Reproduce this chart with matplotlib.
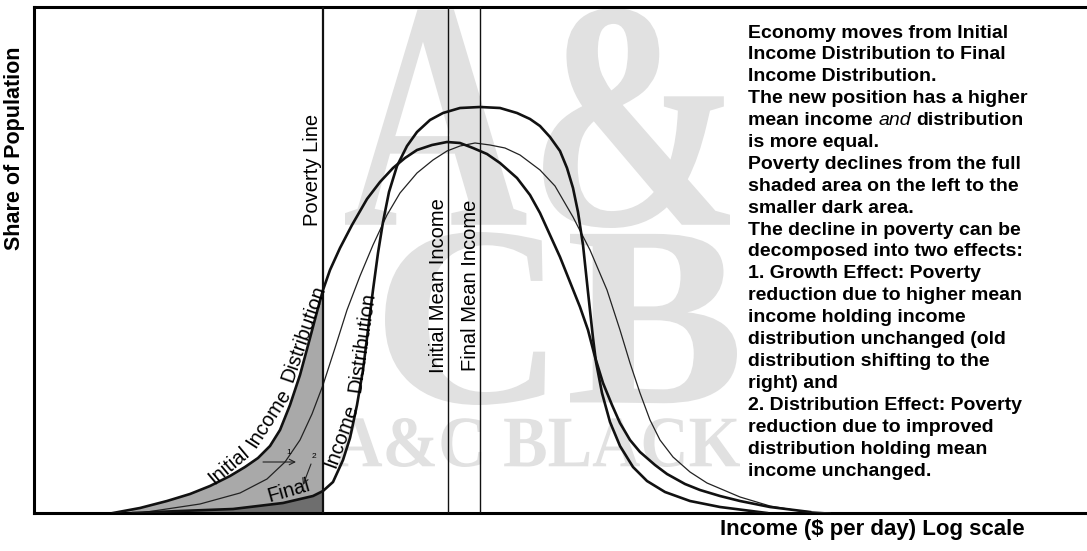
import matplotlib
matplotlib.use("Agg")
import matplotlib.pyplot as plt
import numpy as np
from matplotlib.font_manager import FontProperties
from matplotlib.patches import PathPatch
from matplotlib.textpath import TextPath
from matplotlib.transforms import Affine2D

# income axis (log scale, arbitrary units) and share of population
INIT_X = [7.9, 10.6, 13.3, 15.6, 17.6, 19.6, 21.1, 22.4, 23.6, 24.6, 25.6, 26.6, 27.6, 28.4,
          28.9, 29.6, 30.6, 31.8, 33.3, 34.6, 35.9, 37.1, 38.3, 39.8, 41.3, 42.6, 43.9, 45.3,
          46.6, 48.3, 49.6, 50.6, 51.6, 52.6, 53.6, 54.6, 55.4, 56.1, 56.9, 57.8, 58.6, 59.6,
          60.6, 62.1, 63.3, 65.1, 66.6, 68.6, 70.6, 73.6, 77.6]
INIT_Y = [0.0, 1.0, 2.4, 3.8, 5.4, 7.4, 9.2, 11.0, 13.4, 16.6, 21.6, 27.6, 35.0, 41.0,
          44.6, 48.6, 53.0, 57.6, 62.8, 66.2, 69.0, 71.0, 72.6, 73.6, 74.2, 74.0, 73.0, 71.8,
          70.0, 67.0, 63.6, 60.0, 55.6, 51.2, 46.2, 41.2, 36.6, 31.2, 26.0, 21.6, 18.0, 14.6,
          12.2, 9.6, 7.8, 5.8, 4.6, 3.4, 2.4, 1.2, 0.2]

FINAL_X = [9.9, 14.6, 19.9, 24.9, 27.9, 28.9, 29.9, 30.9, 31.6, 32.3, 32.9, 33.4, 33.9, 34.4,
           34.9, 35.5, 36.3, 37.3, 38.3, 39.6, 40.9, 42.6, 44.6, 46.6, 48.3, 49.6, 50.6, 51.6,
           52.6, 53.3, 53.9, 54.4, 54.9, 55.4, 55.9, 56.2, 56.8, 57.6, 58.6, 59.9, 61.3, 63.1,
           65.6, 68.6, 73.3]
FINAL_Y = [0.0, 0.4, 0.8, 2.0, 3.4, 4.4, 6.2, 10.6, 15.0, 21.6, 28.6, 36.6, 44.6, 52.0,
           58.2, 64.2, 69.4, 73.4, 76.2, 78.6, 80.0, 81.0, 81.2, 81.0, 80.0, 78.8, 77.4, 75.2,
           72.4, 69.0, 65.0, 60.2, 53.6, 44.2, 35.0, 30.2, 24.0, 18.2, 13.4, 9.2, 6.4, 4.2,
           2.4, 1.2, 0.0]

# initial distribution moved to the higher mean (growth effect only)
SHIFT_X = [10.6, 16.6, 20.6, 23.3, 25.1, 26.6, 27.8, 28.9, 30.1, 31.3, 32.6, 33.9, 35.3, 36.6,
           38.3, 39.9, 41.3, 42.6, 44.1, 45.6, 47.1, 48.6, 50.6, 52.1, 53.9, 55.6, 57.3, 58.6,
           59.6, 60.6, 61.6, 62.6, 63.9, 65.6, 67.3, 70.6, 73.6, 76.6, 79.6]
SHIFT_Y = [0.0, 1.8, 4.0, 6.8, 10.2, 14.6, 19.8, 25.6, 33.0, 40.6, 47.4, 53.6, 59.6, 64.0,
           68.0, 70.6, 72.4, 73.4, 74.0, 73.6, 73.0, 71.6, 68.6, 65.4, 59.2, 52.6, 44.6, 36.6,
           30.0, 24.0, 18.6, 14.6, 11.2, 8.2, 6.0, 3.2, 1.4, 0.4, 0.0]

POVERTY_LINE = 28.9
INITIAL_MEAN = 41.4
FINAL_MEAN = 44.6

NOTE_LINES = [
    "Economy moves from Initial",
    "Income Distribution to Final",
    "Income Distribution.",
    "The new position has a higher",
    ("mean income", "and", "distribution"),
    "is more equal.",
    "Poverty declines from the full",
    "shaded area on the left to the",
    "smaller dark area.",
    "The decline in poverty can be",
    "decomposed into two effects:",
    "1. Growth Effect: Poverty",
    "reduction due to higher mean",
    "income holding income",
    "distribution unchanged (old",
    "distribution shifting to the",
    "right) and",
    "2. Distribution Effect: Poverty",
    "reduction due to improved",
    "distribution holding mean",
    "income unchanged.",
]

W, H = 1087, 551
SANS = "Liberation Sans"
plt.rcParams["font.family"] = [SANS, "DejaVu Sans"]


def px(x, y):
    """pixel position on the page -> data coords of the main axes"""
    return (x - 34) / 10.0, (513 - y) / 5.0


def stamp(ax, s, box):
    # faint publisher watermark, stretched into a box given in pixels
    (x0, y1), (x1, y0) = px(box[0], box[1]), px(box[2], box[3])
    tp = TextPath((0, 0), s, prop=FontProperties(family="Liberation Serif", weight="bold"))
    bb = tp.get_extents()
    tr = (Affine2D().translate(-bb.x0, -bb.y0)
          .scale((x1 - x0) / bb.width, (y1 - y0) / bb.height).translate(x0, y0))
    ax.add_patch(PathPatch(tr.transform_path(tp), fc="#e1e1e1", ec="none", zorder=0))


fig = plt.figure(figsize=(W / 100, H / 100), dpi=100)
ax = fig.add_axes([34 / W, 38 / H, 1053 / W, 506 / H])
ax.set_xlim(0, 105.3)
ax.set_ylim(0, 101.2)
ax.set_xticks([])
ax.set_yticks([])
ax.spines["right"].set_visible(False)
for s in ("left", "top", "bottom"):
    ax.spines[s].set_linewidth(2.2)

stamp(ax, "A&", (345, 8, 730, 228))
stamp(ax, "CB", (385, 232, 737, 405))
stamp(ax, "A&C BLACK", (335, 418, 740, 467))

ix, iy = np.array(INIT_X), np.array(INIT_Y)
fx, fy = np.array(FINAL_X), np.array(FINAL_Y)
li, lf = ix <= POVERTY_LINE, fx <= POVERTY_LINE

# poverty areas: full shaded (initial) and the smaller dark one (final)
light = np.vstack([np.column_stack([ix[li], iy[li]]),
                   np.column_stack([fx[lf], fy[lf]])[::-1]])
ax.fill(light[:, 0], light[:, 1], color="#a9a9a9", lw=0, zorder=1)
dark = np.vstack([np.column_stack([fx[lf], fy[lf]]), [[POVERTY_LINE, 0]]])
ax.fill(dark[:, 0], dark[:, 1], color="#6e6e6e", lw=0, zorder=1)

ax.plot(SHIFT_X, SHIFT_Y, color="#222", lw=0.9, zorder=3)
ax.plot(INIT_X, INIT_Y, color="#111", lw=1.9, zorder=4, solid_joinstyle="round")
ax.plot(FINAL_X, FINAL_Y, color="#111", lw=1.9, zorder=4, solid_joinstyle="round")

ax.axvline(POVERTY_LINE, color="#111", lw=1.6, zorder=5)
ax.axvline(INITIAL_MEAN, color="#111", lw=1.0, zorder=5)
ax.axvline(FINAL_MEAN, color="#111", lw=1.0, zorder=5)

lab = dict(fontsize=14.5, ha="center", va="center", rotation_mode="anchor", zorder=6)
ax.text(*px(312, 170), "Poverty Line", rotation=90, **lab)
ax.text(*px(438, 286), "Initial Mean Income", rotation=90, **lab)
ax.text(*px(470, 285), "Final Mean Income", rotation=90, **lab)
ax.text(*px(229, 466), "Initial", rotation=40, **lab)
ax.text(*px(269, 418), "Income", rotation=57, **lab)
ax.text(*px(304, 334), "Distribution", rotation=71, **lab)
ax.text(*px(341, 436), "Income", rotation=70, **lab)
ax.text(*px(362, 342), "Distribution", rotation=82, **lab)
ax.text(*px(289, 491), "Final", rotation=16, **lab)

# growth (1) and distribution (2) effect arrows
arw = dict(arrowstyle="->", lw=0.8, color="#222", shrinkA=0, shrinkB=0)
ax.annotate("", xy=px(296, 462), xytext=px(263, 462), arrowprops=arw, zorder=6)
ax.annotate("", xy=px(303, 485), xytext=px(311, 464), arrowprops=arw, zorder=6)
ax.text(*px(289, 452), "1", fontsize=6, ha="center", va="center")
ax.text(*px(314, 457), "2", fontsize=6, ha="center", va="center")

fig.text(15 / W, 1 - 148 / H, "Share of Population", rotation=90, fontsize=15.5,
         weight="bold", ha="center", va="center")
fig.text(1025 / W, 1 - 530 / H, r"Income (\$ per day) Log scale", fontsize=16,
         weight="bold", ha="right", va="center")

for i, line in enumerate(NOTE_LINES):
    y = 1 - (37.5 + 21.9 * i) / H
    if isinstance(line, tuple):
        t0 = fig.text(748 / W, y, line[0], fontsize=14, weight="bold", va="baseline")
        t1 = fig.add_artist(plt.Annotation(line[1], xy=(1, 0), xycoords=t0,
                                           xytext=(4, 0), textcoords="offset points",
                                           fontsize=14, style="italic", va="bottom"))
        fig.add_artist(plt.Annotation(line[2], xy=(1, 0), xycoords=t1,
                                      xytext=(4, 0), textcoords="offset points",
                                      fontsize=14, weight="bold", va="bottom"))
    else:
        fig.text(748 / W, y, line, fontsize=14, weight="bold", va="baseline")

fig.savefig("out.png", dpi=100)
